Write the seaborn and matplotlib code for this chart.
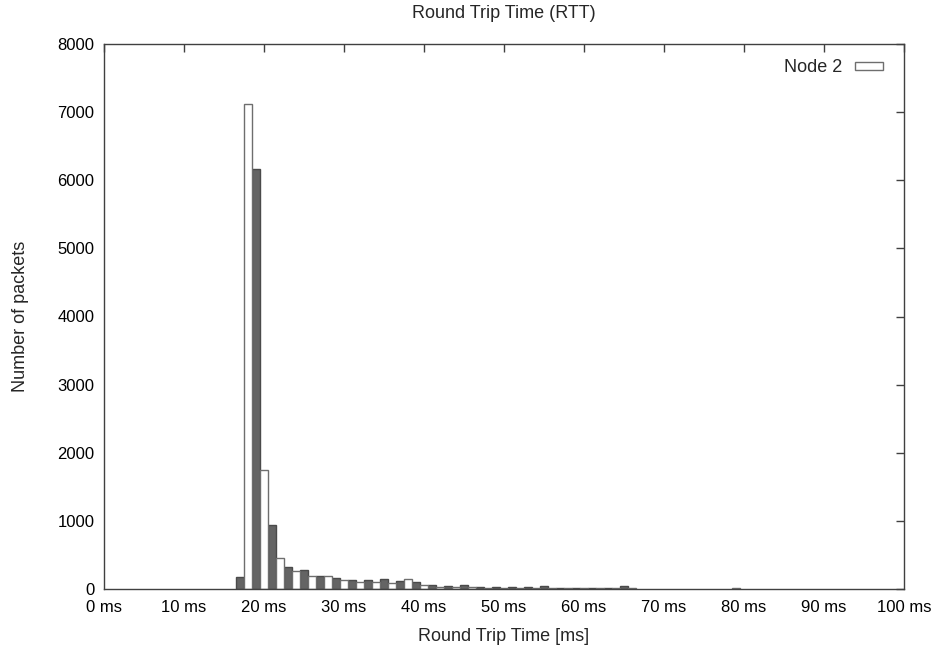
import matplotlib
matplotlib.use("Agg")
import matplotlib.pyplot as plt
from matplotlib.patches import Patch
import seaborn as sns
import pandas as pd

# Node 2 (white bars): RTT position in ms and number of packets
node2_ms = [18, 20, 22, 24, 26, 28, 30, 32, 34, 36, 38, 40, 42, 44, 46,
            48, 50, 52, 54, 56, 58, 60, 62, 64, 66, 79]
node2_counts = [7120, 1750, 450, 264, 191, 191, 130, 107, 100, 83, 142, 54, 34, 24, 24,
                20, 20, 18, 20, 10, 22, 10, 20, 20, 8, 20]

# Other node (dark grey bars)
other_ms = [17, 19, 21, 23, 25, 27, 29, 31, 33, 35, 37, 39, 41, 43, 45,
            47, 49, 51, 53, 55, 57, 59, 61, 63, 65]
other_counts = [180, 6160, 940, 318, 279, 191, 166, 132, 132, 142, 117, 103, 59, 44, 59,
                34, 25, 25, 25, 48, 15, 15, 22, 22, 45]

x_ticks = list(range(0, 101, 10))
x_tick_labels = [f"{t} ms" for t in x_ticks]
y_ticks = list(range(0, 8001, 1000))

sns.set_style("white")
plt.rcParams['font.family'] = ['Liberation Sans', 'DejaVu Sans']

fig = plt.figure(figsize=(9.38, 6.49), dpi=100)
ax = fig.add_axes([104 / 938, 1 - 589 / 649, 800 / 938, 545 / 649])

df_n2 = pd.DataFrame({"ms": node2_ms, "count": node2_counts})
df_ot = pd.DataFrame({"ms": other_ms, "count": other_counts})

sns.barplot(data=df_ot, x="ms", y="count", native_scale=True, color="#646464",
            edgecolor="#4a4a4a", linewidth=1.0, width=0.5, saturation=1,
            errorbar=None, ax=ax)
sns.barplot(data=df_n2, x="ms", y="count", native_scale=True, color="white",
            edgecolor="#6e6e6e", linewidth=1.0, width=0.5, saturation=1,
            errorbar=None, ax=ax)

ax.set_xlim(0, 100)
ax.set_ylim(0, 8000)
ax.set_xticks(x_ticks)
ax.set_xticklabels(x_tick_labels)
ax.set_yticks(y_ticks)
ax.tick_params(direction="in", length=6, width=1, color="#404040",
               top=True, right=True, labelsize=12, labelcolor="black")
ax.tick_params(axis="x", pad=8)
ax.tick_params(axis="y", pad=7)
for s in ax.spines.values():
    s.set_visible(True)
    s.set_color("#404040")
    s.set_linewidth(1.0)

ax.set_xlabel("Round Trip Time [ms]", fontsize=13, labelpad=9)
ax.set_ylabel("Number of packets", fontsize=13, labelpad=20)
ax.set_title("Round Trip Time (RTT)", fontsize=13, pad=19)

handle = Patch(facecolor="white", edgecolor="#6e6e6e", linewidth=1.0)
ax.legend([handle], ["Node 2"], loc="upper right", frameon=False,
          markerfirst=False, fontsize=13, handlelength=1.55, handleheight=0.35,
          handletextpad=0.7, bbox_to_anchor=(0.99, 0.995), borderaxespad=0.3)

fig.savefig("out.png", dpi=100)
